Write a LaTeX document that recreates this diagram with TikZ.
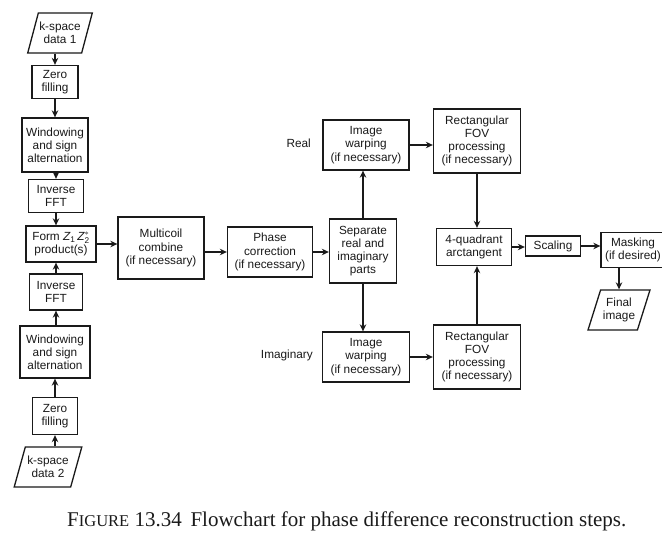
\documentclass[tikz,border=0pt]{standalone}
\usepackage{amsmath}
\usepackage{fontspec}
\setmainfont{Liberation Sans}
\newfontfamily\capfont{Liberation Serif}
\usetikzlibrary{shapes.geometric,arrows.meta}
\definecolor{ink}{HTML}{1A1A1A}
\tikzset{
  box/.style={draw=ink, line width=1.3pt, align=center, inner sep=1pt,
    font=\fontsize{11.8}{13.2}\selectfont, text=ink},
  para/.style={box, trapezium, trapezium left angle=66, trapezium right angle=114,
    trapezium stretches=true},
  arr/.style={draw=ink, line width=1.2pt, -{Stealth[length=7pt,width=6.5pt]}},
  lbl/.style={font=\fontsize{11.8}{13.2}\selectfont, text=ink, inner sep=0pt}
}
\begin{document}
\begin{tikzpicture}[x=1pt,y=-1pt]
\useasboundingbox (0,0) rectangle (662,540);
\fill[white] (0,0) rectangle (662,540);
% left column top
\node[para, minimum width=62, minimum height=40] (k1) at (60,33) {k-space\\data 1};
\node[box, minimum width=46, minimum height=33] (z1) at (55,82) {Zero\\filling};
\node[box, minimum width=66, minimum height=54] (w1) at (55,145) {Windowing\\and sign\\alternation};
\node[box, minimum width=55, minimum height=33] (i1) at (56,196) {Inverse\\FFT};
\node[box, minimum width=70, minimum height=36] (form) at (61,244)
  {Form $\textit{Z}_{\text{1}}\,\textit{Z}_{\text{2}}^{*}$\\product(s)};
% left column bottom
\node[box, minimum width=53, minimum height=36] (i2) at (56,292) {Inverse\\FFT};
\node[box, minimum width=70, minimum height=52] (w2) at (55,352) {Windowing\\and sign\\alternation};
\node[box, minimum width=45, minimum height=37] (z2) at (55,416) {Zero\\filling};
\node[para, minimum width=68, minimum height=40] (k2) at (48,467) {k-space\\data 2};
% middle
\node[box, minimum width=86, minimum height=62] (multi) at (161,248) {Multicoil\\combine\\(if necessary)};
\node[box, minimum width=85, minimum height=50] (phase) at (270,252) {Phase\\correction\\(if necessary)};
\node[box, minimum width=67, minimum height=64] (sep) at (363,251) {Separate\\real and\\imaginary\\parts};
\node[box, minimum width=86, minimum height=50] (warpR) at (366,145) {Image\\warping\\(if necessary)};
\node[box, minimum width=87, minimum height=64] (fovR) at (477,141) {Rectangular\\FOV\\processing\\(if necessary)};
\node[box, minimum width=87, minimum height=50] (warpI) at (366,357) {Image\\warping\\(if necessary)};
\node[box, minimum width=87, minimum height=64] (fovI) at (477,357) {Rectangular\\FOV\\processing\\(if necessary)};
\node[lbl, anchor=east] (real) at (311,143) {Real};
\node[lbl, anchor=east] (imag) at (313,355) {Imaginary};
% right
\node[box, minimum width=75, minimum height=37] (quad) at (474,247) {4-quadrant\\arctangent};
\node[box, minimum width=55, minimum height=20] (scal) at (553,246) {Scaling};
\node[box, minimum width=64, minimum height=35] (mask) at (633,250) {Masking\\(if desired)};
\node[para, minimum width=62, minimum height=40] (final) at (619,310) {Final\\image};
% caption
\node[anchor=base west, inner sep=0pt, text=ink, font=\capfont\fontsize{21}{24}\selectfont] (cap) at (67,526)
  {F{\fontsize{16.5}{19}\selectfont IGURE} 13.34\,\ Flowchart for phase difference reconstruction steps.};
% connectors
\draw[arr] (k1.south -| z1.north) -- (z1.north);
\draw[arr] (z1.south) -- (z1.south |- w1.north);
\draw[arr] (w1.south -| i1.north) -- (i1.north);
\draw[arr] (i1.south) -- (i1.south |- form.north);
\draw[arr] (i2.north) -- (i2.north |- form.south);
\draw[arr] (w2.north -| i2.south) -- (i2.south);
\draw[arr] (z2.north) -- (z2.north |- w2.south);
\draw[arr] (k2.north -| z2.south) -- (z2.south);
\draw[arr] (form.east) -- (form.east -| multi.west);
\draw[arr] (multi.east |- phase.west) -- (phase.west);
\draw[arr] (phase.east) -- (phase.east -| sep.west);
\draw[arr] (sep.north) -- (sep.north |- warpR.south);
\draw[arr] (sep.south) -- (sep.south |- warpI.north);
\draw[arr] (warpR.east) -- (warpR.east -| fovR.west);
\draw[arr] (warpI.east) -- (warpI.east -| fovI.west);
\draw[arr] (fovR.south) -- (fovR.south |- quad.north);
\draw[arr] (fovI.north) -- (fovI.north |- quad.south);
\draw[arr] (quad.east) -- (quad.east -| scal.west);
\draw[arr] (scal.east) -- (scal.east -| mask.west);
\draw[arr] (mask.south -| final.north) -- (final.north);
\end{tikzpicture}
\end{document}
